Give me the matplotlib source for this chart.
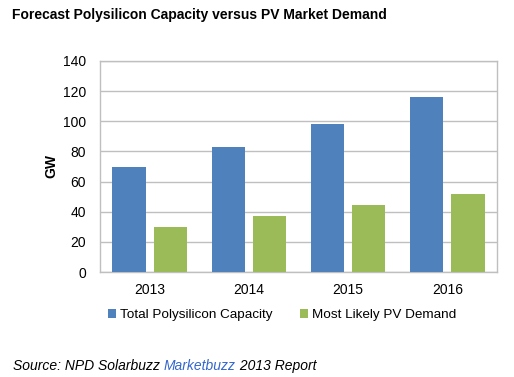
import matplotlib.pyplot as plt
import numpy as np

plt.rcParams['font.family'] = ['Liberation Sans', 'DejaVu Sans']

# data
years = ['2013', '2014', '2015', '2016']
capacity = [70, 83, 98, 116]
demand = [30, 37, 44.5, 52]
series_names = ['Total Polysilicon Capacity', 'Most Likely PV Demand']
colors = ['#4F81BD', '#9BBB59']

fig = plt.figure(figsize=(5.14, 3.77), dpi=100)
ax = fig.add_axes([100 / 514, 1 - 272 / 377, 397 / 514, 211 / 377])

x = np.arange(len(years))
w = 0.335
b1 = ax.bar(x - 0.207, capacity, w, color=colors[0], zorder=3, label=series_names[0])
b2 = ax.bar(x + 0.207, demand, w, color=colors[1], zorder=3, label=series_names[1])

ax.set_xlim(-0.5, 3.5)
ax.set_ylim(0, 140)
ax.set_yticks(range(0, 141, 20))
ax.set_xticks(x)
ax.set_xticklabels(years)
ax.tick_params(length=0, labelsize=10, colors='black', pad=8)
ax.tick_params(axis='y', pad=10)
ax.grid(axis='y', color='#BFBFBF', linewidth=1, zorder=0)
for s in ax.spines.values():
    s.set_color('#BFBFBF')
    s.set_linewidth(1)
ax.set_ylabel('GW', fontsize=10, fontweight='bold', labelpad=3)

fig.text(12 / 514, 1 - 15 / 377, 'Forecast Polysilicon Capacity versus PV Market Demand',
         fontsize=10, fontweight='bold', va='center', ha='left')

fig.legend(handles=[b1, b2], loc='center', bbox_to_anchor=(282 / 514, 1 - 315 / 377),
           ncol=2, frameon=False, fontsize=9.7, handlelength=0.6, handleheight=0.6,
           handletextpad=0.3, columnspacing=2.0)

t1 = fig.text(13 / 514, 1 - 366 / 377, 'Source: NPD Solarbuzz ', fontsize=10,
              style='italic', va='center', ha='left')
t2 = ax.annotate('Marketbuzz', xy=(1, 0.5), xycoords=t1, va='center', ha='left',
                 fontsize=10, style='italic', color='#3366CC')
ax.annotate(' 2013 Report', xy=(1, 0.5), xycoords=t2, va='center', ha='left',
            fontsize=10, style='italic')

fig.savefig('out.png', dpi=100)
